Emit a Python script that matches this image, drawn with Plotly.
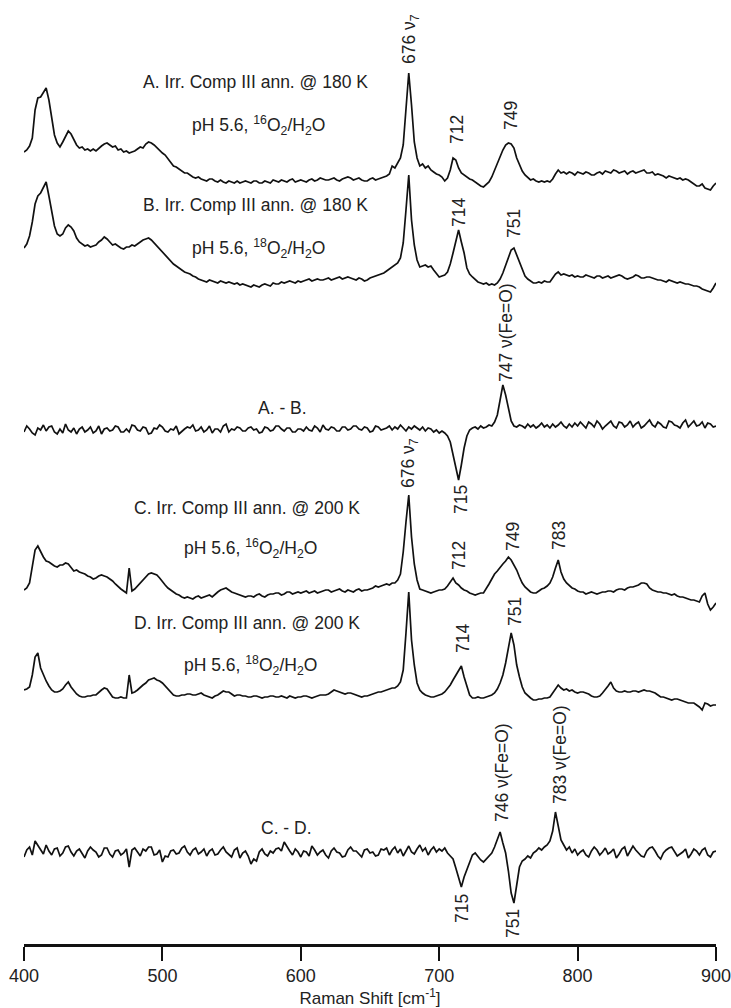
import plotly.graph_objects as go

# Raman shift sampling grid (cm-1), 2 cm-1 steps
raman_shift = [
    400, 402, 404, 406, 408, 410, 412, 414, 416, 418,
    420, 422, 424, 426, 428, 430, 432, 434, 436, 438,
    440, 442, 444, 446, 448, 450, 452, 454, 456, 458,
    460, 462, 464, 466, 468, 470, 472, 474, 476, 478,
    480, 482, 484, 486, 488, 490, 492, 494, 496, 498,
    500, 502, 504, 506, 508, 510, 512, 514, 516, 518,
    520, 522, 524, 526, 528, 530, 532, 534, 536, 538,
    540, 542, 544, 546, 548, 550, 552, 554, 556, 558,
    560, 562, 564, 566, 568, 570, 572, 574, 576, 578,
    580, 582, 584, 586, 588, 590, 592, 594, 596, 598,
    600, 602, 604, 606, 608, 610, 612, 614, 616, 618,
    620, 622, 624, 626, 628, 630, 632, 634, 636, 638,
    640, 642, 644, 646, 648, 650, 652, 654, 656, 658,
    660, 662, 664, 666, 668, 670, 672, 674, 676, 678,
    680, 682, 684, 686, 688, 690, 692, 694, 696, 698,
    700, 702, 704, 706, 708, 710, 712, 714, 716, 718,
    720, 722, 724, 726, 728, 730, 732, 734, 736, 738,
    740, 742, 744, 746, 748, 750, 752, 754, 756, 758,
    760, 762, 764, 766, 768, 770, 772, 774, 776, 778,
    780, 782, 784, 786, 788, 790, 792, 794, 796, 798,
    800, 802, 804, 806, 808, 810, 812, 814, 816, 818,
    820, 822, 824, 826, 828, 830, 832, 834, 836, 838,
    840, 842, 844, 846, 848, 850, 852, 854, 856, 858,
    860, 862, 864, 866, 868, 870, 872, 874, 876, 878,
    880, 882, 884, 886, 888, 890, 892, 894, 896, 898,
    900,
]

# Relative intensities (arb. units), one row per 20 cm-1
spec_A = [
    28, 30, 34, 42, 70, 82, 83, 88, 92, 80,
    60, 45, 37, 33, 38, 44, 49, 46, 40, 35,
    32, 33, 30, 31, 29, 31, 29, 32, 34, 36,
    37, 35, 33, 34, 30, 31, 28, 29, 27, 28,
    29, 31, 33, 32, 36, 38, 37, 35, 32, 30,
    27, 25, 21, 18, 14, 13, 11, 9, 7, 7,
    5, 3, 2, 3, 1, 0, -1, 1, 1, -1,
    -2, 0, -2, -3, -1, -2, -3, -1, -3, -2,
    -1, -2, -3, -1, -1, -3, -3, -1, -2, -3,
    0, -1, -2, 0, -1, -2, 0, 1, -2, -1,
    0, -1, -2, 0, 1, -1, 0, 2, 1, 0,
    0, 1, 2, 0, -1, 1, 2, 3, 2, 0,
    1, 2, 0, -1, -1, 1, 2, 0, 1, 2,
    3, 4, 6, 14, 12, 17, 22, 35, 75, 107,
    75, 38, 22, 14, 16, 12, 14, 10, 8, 6,
    5, 3, -1, 2, 10, 22, 20, 12, 7, 5,
    3, 1, 0, -2, -4, -6, -7, -4, -2, 3,
    10, 17, 24, 30, 35, 37, 36, 32, 22, 16,
    9, 5, 2, 0, 1, -1, -2, -1, -2, -1,
    -2, 1, 6, 10, 7, 8, 6, 8, 7, 5,
    8, 7, 6, 8, 7, 5, 5, 7, 8, 6,
    9, 8, 7, 10, 9, 7, 8, 9, 6, 8,
    9, 7, 8, 9, 10, 7, 7, 8, 5, 6,
    5, 4, 2, 4, 3, 2, 1, 2, 0, 1,
    0, -2, -4, -6, -6, -4, -8, -9, -10, -6,
    -3,
]
spec_B = [
    32, 36, 44, 58, 76, 84, 87, 92, 98, 84,
    68, 54, 46, 44, 46, 52, 55, 53, 49, 42,
    38, 36, 34, 35, 33, 34, 35, 38, 40, 43,
    41, 38, 35, 36, 34, 32, 31, 33, 33, 35,
    34, 36, 38, 40, 41, 42, 40, 37, 33, 30,
    27, 25, 22, 19, 16, 14, 12, 10, 8, 7,
    6, 4, 3, 1, 0, -1, -2, 0, -1, -2,
    -3, -1, -2, -3, -2, -3, -4, -3, -5, -4,
    -5, -6, -7, -5, -6, -7, -5, -4, -5, -6,
    -3, -4, -4, -2, -3, -2, -1, -2, -3, -1,
    -2, -1, 0, 1, -1, 0, 1, 0, 0, 1,
    2, 0, 1, 2, 3, 1, 2, 3, 2, 1,
    0, 2, 1, -1, 0, 2, 3, 4, 5, 6,
    7, 9, 11, 13, 15, 17, 22, 37, 70, 105,
    60, 35, 20, 13, 14, 15, 13, 14, 10, 6,
    3, 4, 5, 8, 16, 27, 40, 50, 38, 27,
    12, 6, 3, 0, -2, -3, -4, -3, -5, -4,
    -5, -3, 1, 7, 14, 22, 30, 32, 25, 17,
    9, 4, 1, -1, -3, -3, -2, -3, -1, -2,
    -2, 2, 6, 8, 5, 6, 5, 4, 5, 3,
    4, 3, 3, 5, 4, 3, 2, 4, 4, 2,
    3, 4, 2, 3, 4, 5, 4, 2, 1, 2,
    3, 5, 4, 2, 2, 3, 3, 2, 1, 0,
    0, -1, -2, 0, -1, -2, -3, -2, -3, -4,
    -4, -5, -6, -6, -7, -9, -10, -11, -12, -8,
    -3,
]
spec_AminusB = [
    -2, 4, 1, -3, -5, 2, 0, 5, -1, 3,
    4, -2, -4, 1, -3, 6, 0, -2, 2, -4,
    1, 3, -2, 0, 3, -3, -1, 4, -4, 1,
    2, -1, 0, 4, 3, -2, -2, 1, -2, 5,
    4, 0, -1, 3, 2, -4, -3, 2, 1, 5,
    3, -1, -2, 1, 0, 4, -4, -1, 1, 3,
    2, 5, -1, 0, 3, -2, 0, 4, -3, 1,
    1, -2, 4, 6, -2, 1, 0, 3, 2, -1,
    -1, 2, 3, 0, 1, -3, -2, 3, 2, -1,
    0, 4, 4, 1, -1, 2, 2, -2, -2, 1,
    1, -1, 3, 0, -1, 4, 2, -2, 5, 1,
    0, 3, 2, -1, -1, 3, 3, 0, 1, 4,
    4, 1, 0, 3, 2, -2, -1, 4, 3, 0,
    1, 2, 4, 0, 3, 1, 5, 2, -1, 3,
    1, 4, 2, 0, 3, -1, 2, 1, -2, 0,
    -3, -1, -3, -6, -12, -25, -40, -50, -35, -18,
    -6, 0, 2, 3, 1, 4, 2, 3, 5, 4,
    8, 15, 30, 45, 35, 20, 9, 4, 3, 5,
    4, 2, 6, 3, 5, 2, 4, 7, 3, 5,
    2, 6, 3, 5, 8, 4, 2, 6, 3, 7,
    4, 8, 5, 2, 8, 6, 3, 9, 6, 1,
    4, 7, 9, 4, 2, 8, 7, 3, 5, 9,
    3, 6, 8, 2, 4, 7, 10, 5, 3, 8,
    6, 3, 2, 9, 8, 5, 4, 2, 7, 10,
    3, 6, 9, 4, 5, 8, 2, 7, 6, 3,
    4,
]
spec_C = [
    2, 4, 9, 25, 42, 46, 40, 35, 31, 30,
    28, 26, 25, 27, 27, 29, 28, 24, 21, 22,
    20, 19, 18, 16, 15, 13, 14, 16, 17, 16,
    15, 13, 11, 8, 5, 3, 1, -1, 24, 1,
    3, 6, 10, 13, 16, 18, 19, 18, 17, 14,
    10, 7, 4, 2, 0, -2, -3, -5, -6, -5,
    -6, -7, -5, -4, -6, -5, -4, -3, -5, -2,
    0, 2, 3, 4, 2, 0, -1, -2, -3, -4,
    -5, -4, -4, -5, -3, -2, -4, -5, -3, -2,
    -2, -1, -1, -3, -2, 0, 0, -2, -1, 0,
    -1, 0, 1, -1, 0, 1, -1, 0, 1, 2,
    2, 0, 1, 2, 3, 1, 0, 2, 1, 0,
    2, 3, 1, 2, 2, 3, 4, 6, 5, 6,
    7, 8, 7, 9, 9, 12, 18, 40, 70, 97,
    55, 28, 12, 3, 2, 1, 0, -1, 0, 1,
    2, 2, 3, 6, 10, 14, 9, 7, 4, 2,
    1, -1, -2, -3, -2, -1, -1, 3, 8, 13,
    18, 21, 25, 28, 31, 35, 32, 27, 22, 15,
    9, 5, 2, 0, -1, -1, 1, 3, 4, 6,
    9, 15, 24, 32, 20, 13, 9, 6, 4, 3,
    1, 0, 0, -2, -1, 0, -1, -2, -1, 0,
    0, 1, 1, 0, 2, 3, 3, 2, 4, 5,
    5, 6, 7, 9, 9, 8, 4, 2, 1, 0,
    0, -1, -1, -2, -3, -2, -4, -5, -5, -6,
    -7, -8, -8, -9, -10, -4, -1, -12, -18, -15,
    -11,
]
spec_D = [
    5, 6, 8, 20, 38, 42, 27, 20, 14, 9,
    5, 3, 3, 4, 6, 10, 13, 8, 4, 1,
    -1, -2, -2, -1, -1, 0, 0, 3, 5, 7,
    6, 2, -2, -3, -3, -2, -3, -3, 20, 2,
    3, 5, 8, 10, 12, 15, 16, 17, 15, 14,
    12, 9, 5, 2, 0, -1, -1, 0, 0, 1,
    1, 0, 0, 1, 2, 0, -1, -2, -3, -1,
    0, 2, 4, 3, 3, 1, -1, 0, 0, -1,
    -1, -2, -2, -1, -1, -2, -3, -2, -2, -1,
    -1, -2, -2, -1, -2, -3, -1, -2, -3, -2,
    -2, -1, -1, -2, -3, -2, -1, 0, 0, 0,
    1, 3, 5, 4, 3, 2, 1, 2, 2, 1,
    0, -1, -2, -1, -1, 0, 1, 2, 3, 3,
    4, 5, 6, 7, 7, 9, 13, 25, 62, 103,
    55, 30, 12, 5, 2, 0, -1, -2, -2, -1,
    0, 1, 3, 6, 10, 15, 20, 25, 29, 18,
    9, 0, -3, -3, -2, -3, -3, -2, -1, 0,
    2, 6, 12, 20, 32, 48, 62, 50, 30, 18,
    8, 2, -1, -3, -5, -5, -4, -4, -3, -3,
    -2, 2, 6, 10, 7, 5, 6, 4, 5, 3,
    2, 3, 3, 2, 1, -1, -2, -2, -1, 2,
    5, 9, 13, 7, 4, 3, 3, 4, 3, 3,
    4, 4, 3, 4, 5, 4, 4, 3, 2, 0,
    -2, -2, -3, -4, -5, -4, -4, -5, -6, -7,
    -8, -8, -8, -10, -12, -15, -8, -9, -11, -10,
    -10,
]
spec_CminusD = [
    -4, 3, 6, -2, 12, 8, 3, -1, 8, 2,
    -2, 4, 5, -3, 0, 6, 7, 1, -3, 2,
    4, -1, -5, 2, 6, 3, 1, -4, -2, 5,
    5, -1, -4, 2, 3, -2, 0, 4, -14, 3,
    5, 1, -3, 4, 2, 6, 6, -2, -1, 3,
    -9, -3, -4, 2, 3, -1, 0, 5, 7, 1,
    -2, 3, 5, -1, 1, 4, -3, 2, 4, -2,
    -1, 3, 6, 1, -2, -4, 3, 5, -5, 0,
    2, -3, -11, -6, -8, 1, 4, -1, -3, 2,
    0, 4, 5, 2, 11, 6, 2, -2, 4, 1,
    -4, 2, 1, -3, 7, 3, -2, 1, 3, -2,
    -5, 2, 5, 1, 0, -4, -3, 3, 6, 2,
    2, -1, -4, 3, 4, 0, 1, -3, -2, 4,
    3, 5, -2, 3, 6, 0, 4, -3, 2, 7,
    1, -1, 4, 8, 2, 5, -2, 3, 6, 1,
    4, 2, 5, 0, -3, -6, -15, -26, -34, -24,
    -16, -8, -2, 0, -4, -7, -9, -6, -2, 0,
    6, 14, 21, 10, 0, -18, -40, -50, -30, -14,
    -8, -6, -3, -5, 0, 2, 5, 3, 6, 8,
    12, 22, 41, 28, 13, 8, 3, 6, 0, 4,
    -2, 1, 3, -2, -4, 2, 6, 3, -2, 1,
    5, -1, 1, 4, -5, -1, 4, 6, -3, 2,
    7, 3, 0, -3, -4, 2, 5, 6, 2, -3,
    -6, 0, 3, 5, 6, 1, -3, -1, 1, 4,
    -5, -1, 4, 2, -2, 3, 5, -2, -4, 1,
    2,
]

spectra = [spec_A, spec_B, spec_AminusB, spec_C, spec_D, spec_CminusD]
spectrum_names = ["A", "B", "A - B", "C", "D", "C - D"]
stack_offsets = [764, 664, 514, 352, 249, 91]

tick_values = [400, 500, 600, 700, 800, 900]

sample_labels = [
    "A. Irr. Comp III ann. @ 180 K",
    "pH 5.6, <sup>16</sup>O<sub>2</sub>/H<sub>2</sub>O",
    "B. Irr. Comp III ann. @ 180 K",
    "pH 5.6, <sup>18</sup>O<sub>2</sub>/H<sub>2</sub>O",
    "A. - B.",
    "C. Irr. Comp III ann. @ 200 K",
    "pH 5.6, <sup>16</sup>O<sub>2</sub>/H<sub>2</sub>O",
    "D. Irr. Comp III ann. @ 200 K",
    "pH 5.6, <sup>18</sup>O<sub>2</sub>/H<sub>2</sub>O",
    "C. - D.",
]
peak_labels = [
    "676 ν<sub>7</sub>", "712", "749", "714", "751", "747 ν(Fe=O)", "715",
    "676 ν<sub>7</sub>", "712", "749", "783", "714", "751",
    "746 ν(Fe=O)", "783 ν(Fe=O)", "715", "751",
]

for s in spectra:
    assert len(s) == len(raman_shift), len(s)

FONT = "Liberation Sans, Arial, Helvetica, sans-serif"
TXT = "#222222"

fig = go.Figure()
for name, spec, off in zip(spectrum_names, spectra, stack_offsets):
    fig.add_trace(go.Scatter(
        x=raman_shift, y=[off + v for v in spec], mode="lines", name=name,
        line=dict(color="#111111", width=1.7), showlegend=False,
    ))

# label positions (x in cm-1, y in stacked units)
sample_pos = [(567.6, 862), (569.1, 819), (567.6, 739), (569.1, 696), (587.1, 536),
              (561.1, 436), (563.3, 396), (561.1, 321), (563.3, 279), (590.0, 116)]
peak_pos = [(678.9, 905), (712.8, 815), (751.9, 828), (714.3, 732), (754.0, 721),
            (748.3, 611), (715.8, 444),
            (678.2, 481), (714.3, 389), (753.3, 408), (786.6, 408),
            (717.2, 305), (754.8, 332),
            (745.4, 171), (787.3, 189), (716.5, 35), (753.3, 21)]

annotations = []
for txt, (x, y) in zip(sample_labels, sample_pos):
    annotations.append(dict(x=x, y=y, xref="x", yref="y", text=txt, showarrow=False,
                            xanchor="center", yanchor="middle",
                            font=dict(family=FONT, size=17.5, color=TXT)))
for txt, (x, y) in zip(peak_labels, peak_pos):
    annotations.append(dict(x=x, y=y, xref="x", yref="y", text=txt, showarrow=False,
                            textangle=-90, xanchor="center", yanchor="middle",
                            font=dict(family=FONT, size=17.5, color=TXT)))

fig.update_layout(
    width=731, height=1008,
    margin=dict(l=24, r=15, t=0, b=64),
    paper_bgcolor="white", plot_bgcolor="white",
    annotations=annotations,
    xaxis=dict(
        range=[400, 900], tickvals=tick_values, ticks="outside", ticklen=14,
        tickwidth=2, tickcolor="#111111", showline=True, linecolor="#111111",
        linewidth=2.5, showgrid=False, zeroline=False, ticklabeloverflow="allow",
        tickfont=dict(family=FONT, size=18, color=TXT),
        title=dict(text="Raman Shift [cm<sup>-1</sup>]", standoff=6,
                   font=dict(family=FONT, size=17, color=TXT)),
    ),
    yaxis=dict(range=[0, 944], visible=False, showgrid=False, zeroline=False),
)

fig.write_html("out.html", config={"displayModeBar": False},
               post_script="document.body.style.margin='0px';")
